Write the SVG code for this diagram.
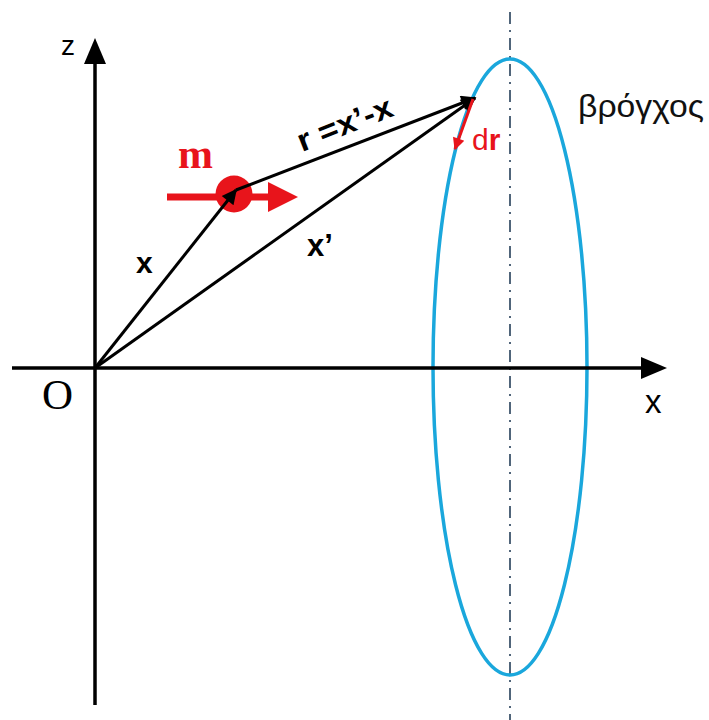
<svg xmlns="http://www.w3.org/2000/svg" width="709" height="720" viewBox="0 0 709 720">
<style>
.ax{stroke:#000;stroke-width:3.5;fill:none}
.vec{stroke:#000;stroke-width:3;fill:none}
.lbl{font-family:"Liberation Sans",Arial,sans-serif;fill:#000}
.red{fill:#e8141b}
.b{font-weight:bold}
</style>
<defs>
<marker id="vh" viewBox="0 0 10 10" refX="9" refY="5" markerWidth="22" markerHeight="15" orient="auto" markerUnits="userSpaceOnUse">
<path d="M0,0 L10,5 L0,10 Z" fill="#000"/>
</marker>
<marker id="rh" viewBox="0 0 10 10" refX="9" refY="5" markerWidth="17" markerHeight="12" orient="auto" markerUnits="userSpaceOnUse">
<path d="M0,0 L10,5 L0,10 Z" fill="#e8141b"/>
</marker>
</defs>
<rect width="709" height="720" fill="#fff"/>
<g id="loop">
<line x1="510" y1="12" x2="510" y2="720" stroke="#50657a" stroke-width="2" stroke-dasharray="12,6,2,6"/>
<ellipse cx="510" cy="367" rx="77" ry="308" fill="none" stroke="#1aa7dc" stroke-width="3.5"/>
<text class="lbl" x="578" y="117" font-size="32" textLength="126" lengthAdjust="spacingAndGlyphs" style="fill:#111">βρόγχος</text>
</g>
<g id="axes">
<line class="ax" x1="95" y1="705" x2="95" y2="60"/>
<path d="M84,64 L95,38 L106,64 Z" fill="#000"/>
<line class="ax" x1="12" y1="368" x2="645" y2="368"/>
<path d="M641,357 L667,368 L641,379 Z" fill="#000"/>
<text class="lbl" x="61" y="55" font-size="28">z</text>
<text class="lbl" x="645" y="413" font-size="33">x</text>
<text x="42" y="409" font-size="43" font-family="'Liberation Serif','Times New Roman',serif" fill="#000">O</text>
</g>
<g id="mass">
<line x1="167" y1="197" x2="272" y2="197" stroke="#e8141b" stroke-width="7"/>
<path d="M268,182 L298,197 L268,212 Z" fill="#e8141b"/>
<circle cx="234" cy="194" r="18.5" fill="#e8141b"/>
<text x="178" y="168" font-size="42" font-weight="bold" font-family="'Liberation Serif','Times New Roman',serif" fill="#e8141b">m</text>
</g>
<g id="connectors">
<line class="vec" x1="95" y1="368" x2="236" y2="190" marker-end="url(#vh)"/>
<line class="vec" x1="95" y1="368" x2="475" y2="98" marker-end="url(#vh)"/>
<line class="vec" x1="236" y1="190" x2="475" y2="98" marker-end="url(#vh)"/>
<line x1="473" y1="99" x2="455" y2="149" stroke="#e8141b" stroke-width="3" marker-end="url(#rh)"/>
</g>
<g id="labels">
<text class="lbl b" x="136" y="273" font-size="30">x</text>
<text class="lbl b" x="307" y="256" font-size="31">x’</text>
<text class="lbl b" x="302" y="152" font-size="31" transform="rotate(-21.5 302 152)" textLength="100" lengthAdjust="spacingAndGlyphs">r =x’-x</text>
<text class="lbl red" x="472" y="150" font-size="30">d<tspan font-weight="bold">r</tspan></text>
</g>
</svg>
